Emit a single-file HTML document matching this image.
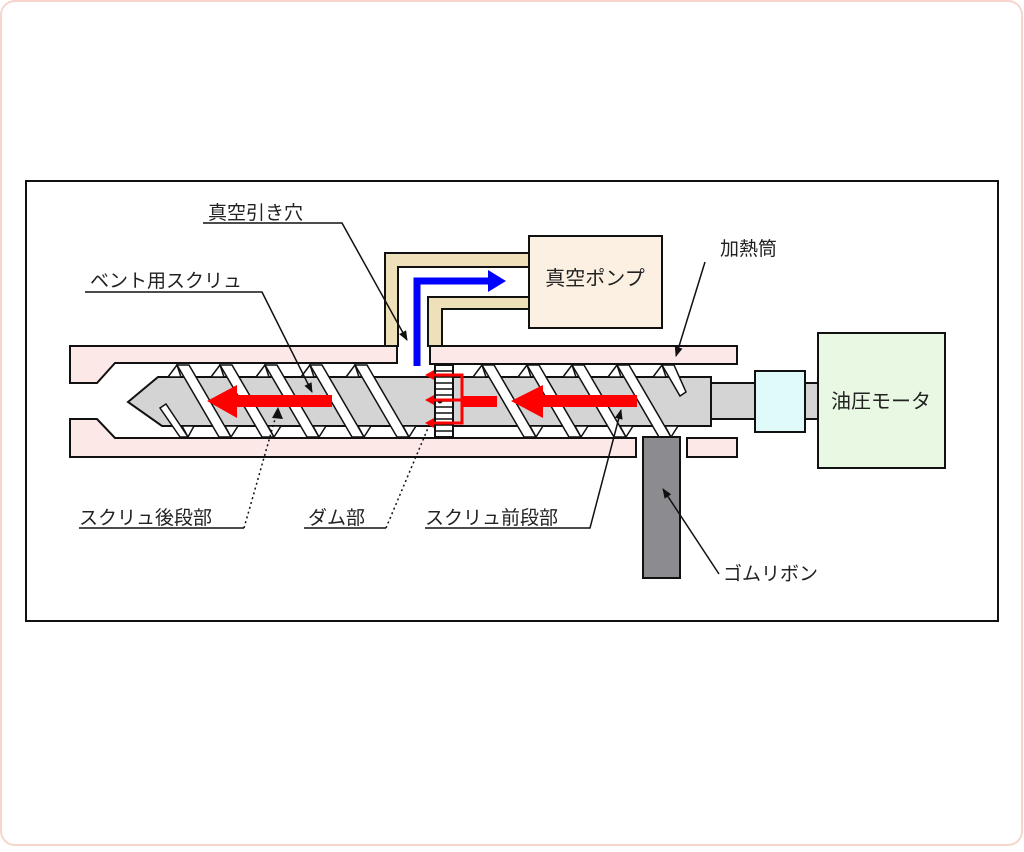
<!DOCTYPE html>
<html><head><meta charset="utf-8"><style>
html,body{margin:0;padding:0;background:#fff;}
body{width:1024px;height:847px;overflow:hidden;}
text{font-family:"Liberation Sans","Noto Sans CJK JP",sans-serif;fill:#222;}
</style></head><body>
<svg width="1024" height="847" viewBox="0 0 1024 847" xmlns="http://www.w3.org/2000/svg">
<defs>
<marker id="ah" markerWidth="10" markerHeight="10" refX="9" refY="5" orient="auto" markerUnits="userSpaceOnUse">
<path d="M0,1 L10,5 L0,9 Z" fill="#111"/></marker>
</defs>
<rect x="1" y="1" width="1021" height="844" rx="14" fill="#fff" stroke="#f6d6cc" stroke-width="2"/>
<rect x="26" y="181" width="972" height="440" fill="#fff" stroke="#111" stroke-width="2"/>

<!-- vent pipe -->
<path d="M385,346 L385,253 L529,253 L529,267 L398,267 L398,346 Z" fill="#eee0b8" stroke="#111" stroke-width="2"/>
<path d="M428,346 L428,297 L529,297 L529,309 L442,309 L442,346 Z" fill="#eee0b8" stroke="#111" stroke-width="2"/>

<!-- pump -->
<rect x="529" y="236" width="133" height="92" fill="#fbf0e2" stroke="#111" stroke-width="2"/>
<text x="595" y="285" font-size="20" text-anchor="middle">真空ポンプ</text>

<!-- barrel -->
<path d="M70,346 L397,346 L397,363 L115,363 L97,383 L70,383 Z" fill="#fde8e8" stroke="#111" stroke-width="2"/>
<rect x="430" y="346" width="307" height="18" fill="#fde8e8" stroke="#111" stroke-width="2"/>
<path d="M70,419 L97,419 L115,438 L636,438 L636,457 L70,457 Z" fill="#fde8e8" stroke="#111" stroke-width="2"/>
<rect x="687" y="438" width="50" height="19" fill="#fde8e8" stroke="#111" stroke-width="2"/>

<!-- shaft, coupling, motor -->
<rect x="711" y="383" width="45" height="36" fill="#d4d4d4" stroke="#111" stroke-width="2"/>
<rect x="755" y="371" width="50" height="61" fill="#e0fafa" stroke="#111" stroke-width="2"/>
<rect x="805" y="383" width="13" height="36" fill="#d4d4d4" stroke="#111" stroke-width="2"/>
<rect x="818" y="333" width="127" height="135" fill="#e8f8e2" stroke="#111" stroke-width="2"/>
<text x="881" y="408" font-size="20" text-anchor="middle">油圧モータ</text>

<!-- screw body -->
<path d="M128,402 L158,377 L711,377 L711,426 L162,426 Z" fill="#d4d4d4" stroke="#111" stroke-width="2"/>

<!-- flights -->
<g stroke="#111" stroke-width="1.5" fill="#fff">
<path d="M160,408 L166,404 L188,437 L180,437 Z"/>
<path d="M177,365 L189,365 L231,437 L219,437 Z"/>
<path d="M220,365 L232,365 L274,437 L262,437 Z"/>
<path d="M265,365 L277,365 L319,437 L307,437 Z"/>
<path d="M310,365 L322,365 L364,437 L352,437 Z"/>
<path d="M355,365 L367,365 L409,437 L397,437 Z"/>
<path d="M482,365 L494,365 L536,437 L524,437 Z"/>
<path d="M527,365 L539,365 L581,437 L569,437 Z"/>
<path d="M572,365 L584,365 L626,437 L614,437 Z"/>
<path d="M617,365 L629,365 L671,437 L659,437 Z"/>
<path d="M662,365 L674,365 L686,392 L680,396 Z"/>
<!-- ridge triangles -->
<path d="M168,377 L177,365 L181,377 Z"/><path d="M211,377 L220,365 L224,377 Z"/>
<path d="M256,377 L265,365 L269,377 Z"/><path d="M301,377 L310,365 L314,377 Z"/>
<path d="M346,377 L355,365 L359,377 Z"/><path d="M473,377 L482,365 L486,377 Z"/>
<path d="M518,377 L527,365 L531,377 Z"/><path d="M563,377 L572,365 L576,377 Z"/>
<path d="M608,377 L617,365 L621,377 Z"/><path d="M653,377 L662,365 L666,377 Z"/>
<path d="M225,426 L238,426 L231,437 Z"/><path d="M268,426 L281,426 L274,437 Z"/>
<path d="M313,426 L326,426 L319,437 Z"/><path d="M358,426 L371,426 L364,437 Z"/>
<path d="M403,426 L416,426 L409,437 Z"/><path d="M530,426 L543,426 L536,437 Z"/>
<path d="M575,426 L588,426 L581,437 Z"/><path d="M620,426 L633,426 L626,437 Z"/>
<path d="M665,426 L678,426 L671,437 Z"/><path d="M182,426 L194,426 L188,437 Z"/>
</g>

<!-- dam ladder -->
<rect x="435" y="365" width="18" height="72" fill="#fff" stroke="#111" stroke-width="2"/>
<g stroke="#111" stroke-width="1.5">
<line x1="435" y1="371" x2="453" y2="371"/><line x1="435" y1="377" x2="453" y2="377"/>
<line x1="435" y1="383" x2="453" y2="383"/><line x1="435" y1="389" x2="453" y2="389"/>
<line x1="435" y1="395" x2="453" y2="395"/><line x1="435" y1="401" x2="453" y2="401"/>
<line x1="435" y1="407" x2="453" y2="407"/><line x1="435" y1="413" x2="453" y2="413"/>
<line x1="435" y1="419" x2="453" y2="419"/><line x1="435" y1="425" x2="453" y2="425"/>
<line x1="435" y1="431" x2="453" y2="431"/>
</g>
<circle cx="440" cy="401" r="2.5" fill="#111"/>

<!-- red arrows -->
<g fill="#f00">
<rect x="237" y="395" width="95" height="12"/>
<path d="M207,401 L237,385 L237,418 Z"/>
<rect x="543" y="395" width="94" height="12"/>
<path d="M511,401 L543,385 L543,418 Z"/>
<rect x="462" y="396" width="35" height="11"/>
</g>
<g stroke="#f00" stroke-width="3" fill="none">
<path d="M432,375 L462,375 L462,423 L432,423"/>
<line x1="432" y1="400" x2="462" y2="400"/>
</g>
<g fill="#f00">
<path d="M425,375 L434,370 L434,380 Z"/><path d="M425,400 L434,395 L434,405 Z"/><path d="M425,423 L434,418 L434,428 Z"/>
</g>

<!-- blue arrow -->
<path d="M417,366 L417,281 L490,281" fill="none" stroke="#0000ff" stroke-width="7"/>
<path d="M488,270 L506,281 L488,292 Z" fill="#0000ff"/>

<!-- rubber ribbon -->
<rect x="643" y="437" width="37" height="141" fill="#8c8c90" stroke="#111" stroke-width="2"/>

<!-- labels -->
<g font-size="19">
<text x="208" y="219">真空引き穴</text>
<text x="90" y="287">ベント用スクリュ</text>
<text x="720" y="255">加熱筒</text>
<text x="79" y="524">スクリュ後段部</text>
<text x="308" y="524">ダム部</text>
<text x="425" y="524">スクリュ前段部</text>
<text x="723" y="580">ゴムリボン</text>
</g>
<g stroke="#111" stroke-width="1.5" fill="none">
<path d="M203,223 L342,223 L407,340" marker-end="url(#ah)"/>
<path d="M85,292 L262,292 L312,392" marker-end="url(#ah)"/>
<path d="M705,262 L676,356" marker-end="url(#ah)"/>
<path d="M425,528 L590,528 L621,410" marker-end="url(#ah)"/>
<path d="M719,574 L663,489" marker-end="url(#ah)"/>
<line x1="79" y1="528" x2="244" y2="528"/>
<path d="M244,528 L277,412" stroke-dasharray="2,3"/>
<line x1="304" y1="528" x2="386" y2="528"/>
<path d="M386,528 L428,428" stroke-dasharray="2,3"/>
</g>
<path d="M272,418 L278,407 L283,419 Z" fill="#111"/>
</svg>
</body></html>
